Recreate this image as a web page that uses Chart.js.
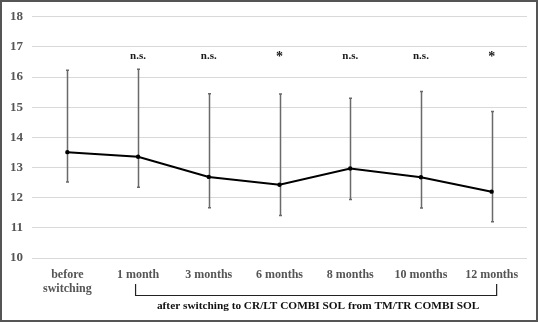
<!DOCTYPE html>
<html>
<head>
<meta charset="utf-8">
<script src="https://cdn.jsdelivr.net/npm/chart.js@4"></script>
<style>
  html, body { margin: 0; padding: 0; background: #fff; }
  #wrap { width: 538px; height: 322px; position: relative; }
</style>
</head>
<body>
<div id="wrap"><canvas id="myChart" width="538" height="322"></canvas></div>
<script>
// data
var categories = [['before', 'switching'], '1 month', '3 months', '6 months', '8 months', '10 months', '12 months'];
var means = [13.51, 13.36, 12.69, 12.43, 12.97, 12.68, 12.20];
var upper = [16.23, 16.26, 15.45, 15.44, 15.30, 15.52, 14.86];
var lower = [12.52, 12.35, 11.67, 11.41, 11.94, 11.66, 11.20];
var marks = ['', 'n.s.', 'n.s.', '*', 'n.s.', 'n.s.', '*'];
var markLevel = 16.68;
var yMin = 10, yMax = 18;
var bracketText = 'after switching to CR/LT COMBI SOL from TM/TR COMBI SOL';

var serif = '"Liberation Serif", "Times New Roman", serif';

var extras = {
    id: 'extras',
    beforeDatasetsDraw: function (chart) {
        var ctx = chart.ctx, x = chart.scales.x, y = chart.scales.y;
        ctx.save();
        ctx.strokeStyle = '#6a6a6a';
        ctx.lineWidth = 1.5;
        for (var i = 0; i < means.length; i++) {
            var px = Math.round(x.getPixelForValue(i)) + 0.5;
            var t = y.getPixelForValue(upper[i]), b = y.getPixelForValue(lower[i]);
            ctx.beginPath();
            ctx.moveTo(px, t); ctx.lineTo(px, b);
            ctx.moveTo(px - 1.5, t); ctx.lineTo(px + 1.5, t);
            ctx.moveTo(px - 1.5, b); ctx.lineTo(px + 1.5, b);
            ctx.stroke();
        }
        ctx.restore();
    },
    afterDraw: function (chart) {
        var ctx = chart.ctx, x = chart.scales.x, y = chart.scales.y;
        ctx.save();
        // significance marks
        ctx.fillStyle = '#1a1a1a';
        ctx.textAlign = 'center';
        ctx.textBaseline = 'middle';
        for (var i = 0; i < marks.length; i++) {
            if (!marks[i]) continue;
            var my = y.getPixelForValue(markLevel);
            if (marks[i] === '*') {
                ctx.font = 'bold 14px ' + serif;
                my += 1;
            } else {
                ctx.font = 'bold 11px ' + serif;
            }
            ctx.fillText(marks[i], x.getPixelForValue(i), my);
        }
        // bracket under the axis
        var x1 = x.getPixelForValue(1) - 2.5, x2 = x.getPixelForValue(6) + 5;
        var yb = 295.5;
        ctx.strokeStyle = '#222';
        ctx.lineWidth = 1.2;
        ctx.beginPath();
        ctx.moveTo(x1, 284); ctx.lineTo(x1, yb); ctx.lineTo(x2, yb); ctx.lineTo(x2, 284);
        ctx.stroke();
        ctx.fillStyle = '#111';
        ctx.font = 'bold 11.3px ' + serif;
        ctx.textBaseline = 'middle';
        ctx.fillText(bracketText, (x1 + x2) / 2 + 2, 306.5);
        // outer frame
        ctx.strokeStyle = '#555';
        ctx.lineWidth = 2;
        ctx.strokeRect(1, 1, chart.width - 2, chart.height - 2);
        ctx.restore();
    }
};

var ctx = document.getElementById('myChart').getContext('2d');
var myChart = new Chart(ctx, {
    type: 'line',
    data: {
        labels: categories,
        datasets: [{
            data: means,
            borderColor: '#000',
            backgroundColor: '#000',
            borderWidth: 2,
            pointRadius: 1.2,
            tension: 0
        }]
    },
    options: {
        responsive: false,
        animation: false,
        layout: { padding: { top: 14, left: 0, right: 11, bottom: 0 } },
        plugins: {
            legend: { display: false },
            tooltip: { enabled: false }
        },
        scales: {
            x: {
                offset: true,
                grid: { display: false },
                border: { display: false },
                ticks: {
                    color: '#555',
                    font: { family: serif, size: 12, weight: 'bold', lineHeight: 1.15 },
                    padding: 2,
                    maxRotation: 0,
                    autoSkip: false
                },
                afterFit: function (s) { s.height = 64; }
            },
            y: {
                min: yMin,
                max: yMax,
                grid: { color: '#d9d9d9', drawTicks: false },
                border: { display: false },
                ticks: {
                    stepSize: 1,
                    color: '#555',
                    padding: 9,
                    font: { family: serif, size: 13, weight: 'bold' }
                },
                afterFit: function (s) { s.width = 32; }
            }
        }
    },
    plugins: [extras]
});
</script>
</body>
</html>
